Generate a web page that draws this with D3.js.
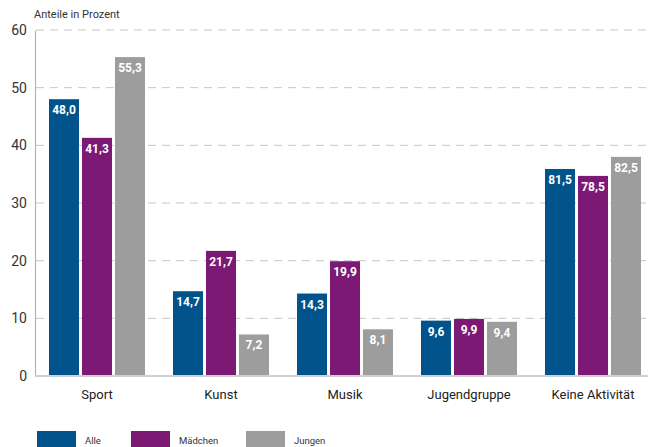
<!DOCTYPE html>
<html lang="de">
<head>
    <meta charset="UTF-8">
    <title>Anteile in Prozent</title>
    <script src="https://cdn.jsdelivr.net/npm/d3@7"></script>
    <style>
        body { margin: 0; background: #fff; }
        text { font-family: Roboto, "DejaVu Sans", sans-serif; }
    </style>
</head>
<body>

<script>
    var width = 653;
    var height = 447;

    var categories = ["Sport", "Kunst", "Musik", "Jugendgruppe", "Keine Aktivität"];
    var series = ["Alle", "Mädchen", "Jungen"];
    var colors = ["#00538b", "#7b1975", "#9d9d9d"];

    // Werte laut Beschriftung
    var alle    = [48.0, 14.7, 14.3, 9.6, 81.5];
    var maedchen = [41.3, 21.7, 19.9, 9.9, 78.5];
    var jungen  = [55.3, 7.2, 8.1, 9.4, 82.5];

    // Balkenhöhe wie im Original gezeichnet (bei "Keine Aktivität" abweichend von der Beschriftung)
    var alleBar    = [48.0, 14.7, 14.3, 9.6, 35.9];
    var maedchenBar = [41.3, 21.7, 19.9, 9.9, 34.7];
    var jungenBar  = [55.3, 7.2, 8.1, 9.4, 38.0];

    var yTicks = [0, 10, 20, 30, 40, 50, 60];

    var labels = [alle, maedchen, jungen];
    var bars = [alleBar, maedchenBar, jungenBar];

    var svg = d3.select("body")
                .append("svg")
                .attr("width", width)
                .attr("height", height);

    var x = d3.scaleBand()
              .domain(categories)
              .range([35, 655]);

    var xInner = d3.scaleBand()
                   .domain(series)
                   .range([x.bandwidth() / 2 - 48, x.bandwidth() / 2 + 48])
                   .paddingInner(0.09);

    var y = d3.scaleLinear()
              .domain([0, 60])
              .range([376, 30]);

    // Gitterlinien
    svg.selectAll("line.grid")
        .data(yTicks.filter(function (d) { return d > 0; }))
        .enter()
        .append("line")
        .attr("class", "grid")
        .attr("x1", 36)
        .attr("x2", 648)
        .attr("y1", function (d) { return y(d); })
        .attr("y2", function (d) { return y(d); })
        .attr("stroke", "#c6c6c6")
        .attr("stroke-width", 1)
        .attr("stroke-dasharray", "8,6");

    // y-Achse
    var yAxis = d3.axisLeft(y).tickValues(yTicks).tickSize(0).tickPadding(8);
    var gy = svg.append("g")
        .attr("transform", "translate(35,0)")
        .call(yAxis);
    gy.select(".domain").attr("stroke", "#b5b5b5").attr("stroke-width", 1.2);
    gy.selectAll("text")
        .attr("font-size", 14)
        .attr("fill", "#333")
        .attr("font-family", "Roboto, sans-serif");

    // Balken
    var groups = svg.selectAll("g.cat")
        .data(categories)
        .enter()
        .append("g")
        .attr("class", "cat")
        .attr("transform", function (d) { return "translate(" + x(d) + ",0)"; });

    series.forEach(function (s, si) {
        groups.append("rect")
            .attr("x", xInner(s))
            .attr("y", function (d, i) { return y(bars[si][i]); })
            .attr("width", xInner.bandwidth())
            .attr("height", function (d, i) { return y(0) - y(bars[si][i]); })
            .attr("fill", colors[si]);

        groups.append("text")
            .attr("x", xInner(s) + xInner.bandwidth() / 2)
            .attr("y", function (d, i) { return y(bars[si][i]) + 15; })
            .attr("text-anchor", "middle")
            .attr("font-size", 12)
            .attr("font-weight", "bold")
            .attr("fill", "#fff")
            .text(function (d, i) { return d3.format(".1f")(labels[si][i]).replace(".", ","); });
    });

    // x-Achse
    var xAxis = d3.axisBottom(x).tickSize(0).tickPadding(14);
    var gx = svg.append("g")
        .attr("transform", "translate(0,376)")
        .call(xAxis);
    gx.select(".domain").attr("stroke", "#d0d0d0").attr("stroke-width", 2)
        .attr("d", "M35,0H648");
    gx.selectAll("text")
        .attr("font-size", 13)
        .attr("fill", "#222")
        .attr("font-family", "Roboto, sans-serif");

    svg.append("text")
        .attr("x", 34)
        .attr("y", 18)
        .attr("font-size", 11)
        .attr("fill", "#333")
        .text("Anteile in Prozent");

    // Legende
    var legendX = [37, 131, 246];
    var legend = svg.selectAll("g.legend")
        .data(series)
        .enter()
        .append("g")
        .attr("class", "legend")
        .attr("transform", function (d, i) { return "translate(" + legendX[i] + ",431)"; });

    legend.append("rect")
        .attr("width", 39)
        .attr("height", 17)
        .attr("fill", function (d, i) { return colors[i]; });

    legend.append("text")
        .attr("x", 48)
        .attr("y", 13)
        .attr("font-size", 9.5)
        .attr("fill", "#333")
        .text(function (d) { return d; });
</script>
</body>
</html>
